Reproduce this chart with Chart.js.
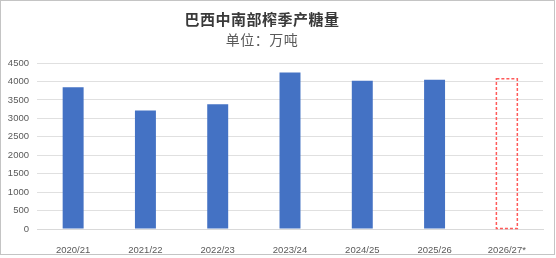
<!DOCTYPE html>
<html>
<head>
<meta charset="utf-8">
<script src="https://cdn.jsdelivr.net/npm/chart.js@4/dist/chart.umd.min.js"></script>
<style>
  html, body { margin: 0; padding: 0; background: #ffffff; }
  #wrap { position: relative; width: 556px; height: 258px; overflow: hidden; }
  #frame { position: absolute; left: 0; top: 0; width: 553px; height: 253px; border: 1.5px solid #c4c4c4; pointer-events: none; }
  #c { position: absolute; left: 0; top: 0; }
  .t { position: absolute; left: 162px; width: 200px; text-align: center; font-family: "Noto Sans CJK SC", sans-serif; white-space: nowrap; }
  #title { top: 8px; font-size: 15px; font-weight: bold; color: #3a3a3a; letter-spacing: 0.5px; }
  #sub { top: 29px; font-size: 14px; color: #595959; letter-spacing: 0.5px; }
</style>
</head>
<body>
<div id="wrap">
  <canvas id="c" width="556" height="258"></canvas>
  <div id="title" class="t">巴西中南部榨季产糖量</div>
  <div id="sub" class="t">单位：万吨</div>
  <div id="frame"></div>
</div>
<script>
const categories = ['2020/21', '2021/22', '2022/23', '2023/24', '2024/25', '2025/26', '2026/27*'];
const sugarOutput = [3840, 3210, 3385, 4245, 4020, 4045, 4070];
const forecastIndex = 6;
const yTicks = [0, 500, 1000, 1500, 2000, 2500, 3000, 3500, 4000, 4500];

const barColor = '#4472C4';
const dashColor = '#ff5a5a';

const dashedForecast = {
  id: 'dashedForecast',
  afterDatasetsDraw(chart) {
    const meta = chart.getDatasetMeta(0);
    const el = meta.data[forecastIndex];
    if (!el) return;
    const p = el.getProps(['x', 'y', 'base', 'width'], true);
    const ctx = chart.ctx;
    ctx.save();
    ctx.strokeStyle = dashColor;
    ctx.lineWidth = 1.5;
    ctx.setLineDash([3, 2]);
    const left = p.x - p.width / 2, right = p.x + p.width / 2;
    ctx.strokeRect(left, p.y, right - left, p.base - p.y);
    ctx.restore();
  }
};

new Chart(document.getElementById('c'), {
  type: 'bar',
  data: {
    labels: categories,
    datasets: [{
      data: sugarOutput,
      backgroundColor: sugarOutput.map((v, i) => i === forecastIndex ? 'rgba(0,0,0,0)' : barColor),
      borderWidth: 0,
      categoryPercentage: 1,
      barPercentage: 0.29
    }]
  },
  options: {
    responsive: false,
    animation: false,
    devicePixelRatio: 1,
    layout: { padding: { left: 0, top: 63, right: 13, bottom: 0 } },
    plugins: { legend: { display: false }, tooltip: { enabled: false }, title: { display: false } },
    scales: {
      x: {
        grid: { display: false },
        border: { display: true, color: '#d9d9d9', width: 1 },
        ticks: { color: '#595959', font: { family: 'Liberation Sans, Arial, sans-serif', size: 9.5 }, padding: 8, maxRotation: 0 },
        afterFit(scale) { scale.height = 29; }
      },
      y: {
        min: 0,
        max: 4500,
        afterBuildTicks(scale) { scale.ticks = yTicks.map(v => ({ value: v })); },
        grid: { color: '#e0e0e0', lineWidth: 1, drawTicks: false },
        border: { display: false },
        ticks: { color: '#595959', font: { family: 'Liberation Sans, Arial, sans-serif', size: 9.5 }, padding: 8, callback: (v) => String(v) },
        afterFit(scale) { scale.width = 37; }
      }
    }
  },
  plugins: [dashedForecast]
});
</script>
</body>
</html>
